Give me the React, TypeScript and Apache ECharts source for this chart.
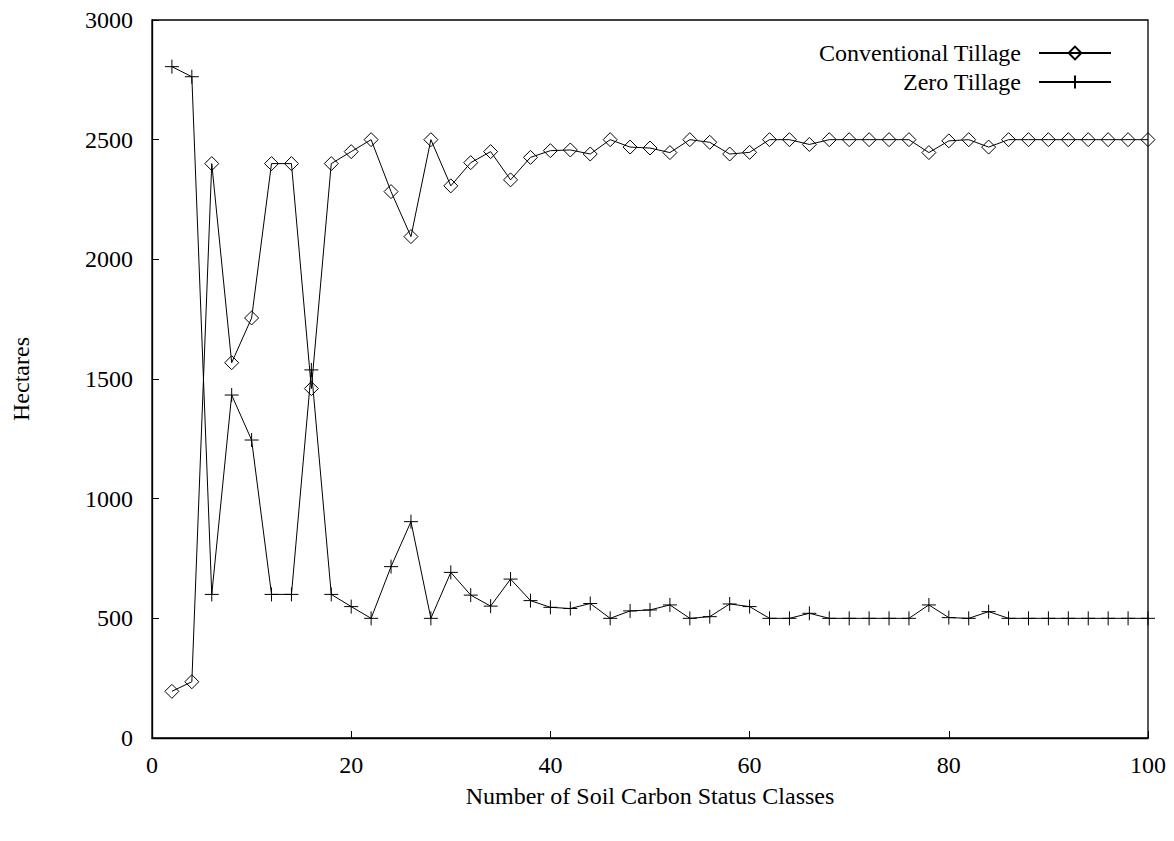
import React, { useEffect, useRef } from "react";
import * as echarts from "echarts";

const classCounts = [
  2, 4, 6, 8, 10, 12, 14, 16, 18, 20, 22, 24, 26, 28, 30, 32, 34, 36, 38, 40,
  42, 44, 46, 48, 50, 52, 54, 56, 58, 60, 62, 64, 66, 68, 70, 72, 74, 76, 78, 80,
  82, 84, 86, 88, 90, 92, 94, 96, 98, 100,
];

const conventionalTillage = [
  195, 235, 2400, 1568, 1755, 2400, 2400, 1460, 2400, 2450, 2500, 2283, 2095, 2500,
  2307, 2404, 2450, 2332, 2426, 2454, 2457, 2440, 2500, 2469, 2465, 2446, 2500,
  2489, 2440, 2447, 2500, 2500, 2480, 2500, 2500, 2500, 2500, 2500, 2446, 2495,
  2500, 2469, 2500, 2500, 2500, 2500, 2500, 2500, 2500, 2500,
];

const zeroTillage = [
  2805, 2763, 600, 1433, 1245, 600, 600, 1538, 600, 549, 500, 716, 904, 500, 692,
  597, 551, 664, 574, 546, 541, 562, 500, 531, 535, 556, 500, 507, 560, 549, 500,
  500, 521, 500, 500, 500, 500, 500, 556, 503, 500, 528, 500, 500, 500, 500, 500,
  500, 500, 500,
];

const xTicks = { min: 0, max: 100, interval: 20 };
const yTicks = { min: 0, max: 3000, interval: 500 };

const FONT = "'Liberation Serif', 'Times New Roman', serif";

export default function App() {
  const ref = useRef<HTMLDivElement>(null);

  useEffect(() => {
    if (!ref.current) return;
    const chart = echarts.init(ref.current, undefined, { renderer: "svg" });
    const toPairs = (ys: number[]) => classCounts.map((x, i) => [x, ys[i]]);
    chart.setOption({
      animation: false,
      backgroundColor: "#fff",
      textStyle: { fontFamily: FONT, color: "#000" },
      grid: {
        left: 152,
        right: 26,
        top: 20,
        bottom: 103,
        show: true,
        borderColor: "#000",
        borderWidth: 1.3,
        backgroundColor: "transparent",
      },
      legend: {
        right: 57,
        top: 36,
        orient: "vertical",
        align: "right",
        itemWidth: 72,
        itemHeight: 16,
        itemGap: 5,
        textStyle: {
          fontFamily: FONT,
          fontSize: 24,
          color: "#000",
          padding: [0, 13, 0, 0],
        },
        data: ["Conventional Tillage", "Zero Tillage"],
      },
      xAxis: {
        type: "value",
        min: xTicks.min,
        max: xTicks.max,
        interval: xTicks.interval,
        name: "Number of Soil Carbon Status Classes",
        nameLocation: "middle",
        nameGap: 46,
        nameTextStyle: { fontFamily: FONT, fontSize: 24, color: "#000" },
        axisLine: { show: true, lineStyle: { color: "#000", width: 1.3 } },
        axisTick: { show: true, inside: true, length: 7, lineStyle: { color: "#000" } },
        axisLabel: {
          fontFamily: FONT,
          fontSize: 24,
          color: "#000",
          margin: 15,
          formatter: (v: number) => String(v),
        },
        splitLine: { show: false },
      },
      yAxis: {
        type: "value",
        min: yTicks.min,
        max: yTicks.max,
        interval: yTicks.interval,
        name: "Hectares",
        nameLocation: "middle",
        nameGap: 119,
        nameRotate: 90,
        nameTextStyle: { fontFamily: FONT, fontSize: 24, color: "#000" },
        axisLine: { show: true, lineStyle: { color: "#000", width: 1.3 } },
        axisTick: { show: true, inside: true, length: 7, lineStyle: { color: "#000" } },
        axisLabel: {
          fontFamily: FONT,
          fontSize: 24,
          color: "#000",
          margin: 19,
          formatter: (v: number) => String(v),
        },
        splitLine: { show: false },
      },
      series: [
        {
          name: "Conventional Tillage",
          type: "line",
          data: toPairs(conventionalTillage),
          symbol: "diamond",
          symbolSize: 14,
          showAllSymbol: true,
          clip: false,
          lineStyle: { color: "#000", width: 1 },
          itemStyle: { color: "rgba(0,0,0,0)", borderColor: "#000", borderWidth: 1 },
          z: 3,
        },
        {
          name: "Zero Tillage",
          type: "line",
          data: toPairs(zeroTillage),
          symbol: "path://M0,5L10,5M5,0L5,10",
          symbolSize: 14,
          showAllSymbol: true,
          clip: false,
          lineStyle: { color: "#000", width: 1 },
          itemStyle: { color: "rgba(0,0,0,0)", borderColor: "#000", borderWidth: 1 },
          z: 3,
        },
      ],
    });
    return () => chart.dispose();
  }, []);

  return (
    <div
      ref={ref}
      style={{ position: "fixed", left: 0, top: 0, width: 1174, height: 841 }}
    />
  );
}
